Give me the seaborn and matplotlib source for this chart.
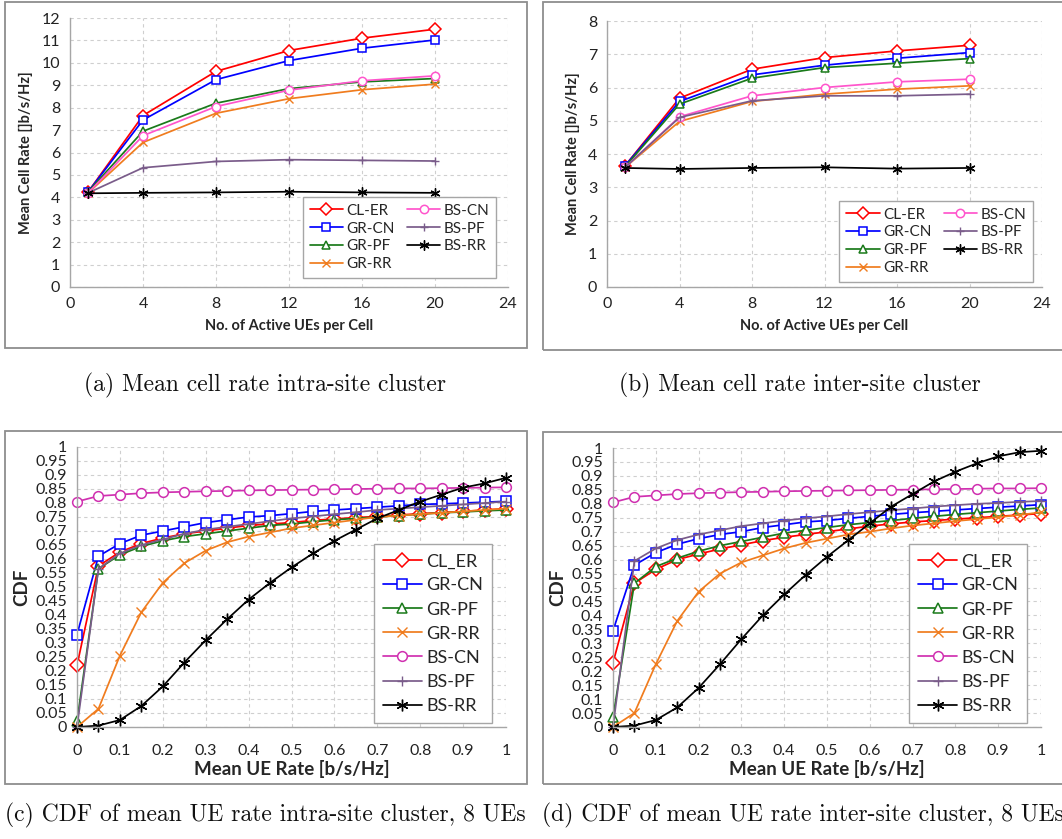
import matplotlib
matplotlib.use("Agg")
import matplotlib.pyplot as plt
from matplotlib.patches import Rectangle
import seaborn as sns
import numpy as np

# ---- mean cell rate vs number of active UEs ----
ues = [1, 4, 8, 12, 16, 20]

intra_rate = {
    "CL-ER": [4.25, 7.65, 9.62, 10.55, 11.10, 11.50],
    "GR-CN": [4.25, 7.45, 9.25, 10.10, 10.65, 11.02],
    "GR-PF": [4.25, 6.95, 8.20, 8.85, 9.15, 9.30],
    "GR-RR": [4.20, 6.45, 7.75, 8.40, 8.80, 9.05],
    "BS-CN": [4.20, 6.75, 8.05, 8.78, 9.20, 9.42],
    "BS-PF": [4.20, 5.32, 5.60, 5.68, 5.65, 5.62],
    "BS-RR": [4.18, 4.20, 4.22, 4.25, 4.22, 4.20],
}

inter_rate = {
    "CL-ER": [3.65, 5.68, 6.55, 6.90, 7.10, 7.27],
    "GR-CN": [3.65, 5.58, 6.38, 6.67, 6.88, 7.05],
    "GR-PF": [3.62, 5.50, 6.28, 6.60, 6.73, 6.87],
    "GR-RR": [3.60, 4.98, 5.58, 5.80, 5.95, 6.05],
    "BS-CN": [3.60, 5.12, 5.75, 6.00, 6.17, 6.25],
    "BS-PF": [3.60, 5.10, 5.60, 5.75, 5.75, 5.80],
    "BS-RR": [3.58, 3.55, 3.58, 3.60, 3.56, 3.58],
}

# ---- CDF of mean UE rate, 8 UEs ----
ue_rate = [0.0, 0.05, 0.1, 0.15, 0.2, 0.25, 0.3, 0.35, 0.4, 0.45, 0.5,
           0.55, 0.6, 0.65, 0.7, 0.75, 0.8, 0.85, 0.9, 0.95, 1.0]

intra_cdf = {
    "CL_ER": [0.22, 0.575, 0.625, 0.655, 0.675, 0.69, 0.70, 0.71, 0.72, 0.725, 0.73,
              0.738, 0.743, 0.748, 0.752, 0.757, 0.762, 0.766, 0.77, 0.775, 0.78],
    "GR-CN": [0.33, 0.61, 0.655, 0.685, 0.70, 0.715, 0.73, 0.74, 0.75, 0.755, 0.762,
              0.77, 0.775, 0.78, 0.785, 0.79, 0.795, 0.797, 0.80, 0.803, 0.806],
    "GR-PF": [0.02, 0.565, 0.615, 0.645, 0.665, 0.68, 0.69, 0.70, 0.71, 0.72, 0.725,
              0.733, 0.74, 0.745, 0.75, 0.755, 0.76, 0.765, 0.768, 0.772, 0.775],
    "GR-RR": [0.0, 0.065, 0.255, 0.41, 0.515, 0.585, 0.63, 0.66, 0.68, 0.695, 0.71,
              0.72, 0.73, 0.74, 0.75, 0.755, 0.76, 0.765, 0.77, 0.775, 0.78],
    "BS-CN": [0.805, 0.825, 0.83, 0.835, 0.838, 0.84, 0.842, 0.843, 0.845, 0.846, 0.847,
              0.848, 0.849, 0.85, 0.851, 0.852, 0.852, 0.853, 0.854, 0.855, 0.856],
    "BS-PF": [0.0, 0.565, 0.62, 0.65, 0.67, 0.69, 0.705, 0.715, 0.725, 0.735, 0.745,
              0.752, 0.76, 0.767, 0.775, 0.78, 0.785, 0.79, 0.795, 0.80, 0.805],
    "BS-RR": [0.0, 0.005, 0.025, 0.075, 0.145, 0.23, 0.31, 0.385, 0.455, 0.515, 0.57,
              0.62, 0.665, 0.705, 0.745, 0.775, 0.805, 0.83, 0.855, 0.87, 0.89],
}

inter_cdf = {
    "CL_ER": [0.23, 0.515, 0.565, 0.60, 0.62, 0.638, 0.653, 0.668, 0.68, 0.69, 0.70,
              0.71, 0.72, 0.728, 0.735, 0.74, 0.745, 0.75, 0.755, 0.76, 0.765],
    "GR-CN": [0.345, 0.58, 0.625, 0.655, 0.675, 0.69, 0.70, 0.715, 0.725, 0.735, 0.74,
              0.748, 0.755, 0.762, 0.768, 0.773, 0.778, 0.783, 0.788, 0.792, 0.797],
    "GR-PF": [0.035, 0.515, 0.575, 0.605, 0.63, 0.65, 0.665, 0.68, 0.695, 0.705, 0.715,
              0.725, 0.733, 0.74, 0.748, 0.755, 0.762, 0.768, 0.774, 0.78, 0.785],
    "GR-RR": [0.0, 0.05, 0.225, 0.38, 0.485, 0.55, 0.59, 0.615, 0.64, 0.66, 0.675,
              0.69, 0.70, 0.712, 0.722, 0.73, 0.738, 0.745, 0.752, 0.76, 0.77],
    "BS-CN": [0.805, 0.825, 0.83, 0.835, 0.838, 0.84, 0.842, 0.843, 0.845, 0.846, 0.847,
              0.848, 0.849, 0.85, 0.851, 0.852, 0.853, 0.854, 0.855, 0.855, 0.856],
    "BS-PF": [0.0, 0.595, 0.64, 0.67, 0.69, 0.705, 0.72, 0.73, 0.74, 0.748, 0.755,
              0.763, 0.77, 0.777, 0.783, 0.79, 0.795, 0.80, 0.803, 0.807, 0.81],
    "BS-RR": [0.0, 0.005, 0.025, 0.07, 0.14, 0.225, 0.315, 0.40, 0.475, 0.545, 0.61,
              0.67, 0.73, 0.79, 0.835, 0.88, 0.915, 0.945, 0.97, 0.985, 0.99],
}

rate_xticks = [0, 4, 8, 12, 16, 20, 24]
cdf_xticks = [0, 0.1, 0.2, 0.3, 0.4, 0.5, 0.6, 0.7, 0.8, 0.9, 1]
cdf_xticklabels = ["0", "0.1", "0.2", "0.3", "0.4", "0.5", "0.6", "0.7", "0.8", "0.9", "1"]
cdf_yticks = [i / 20 for i in range(21)]
cdf_yticklabels = ["0", "0.05", "0.1", "0.15", "0.2", "0.25", "0.3", "0.35", "0.4",
                   "0.45", "0.5", "0.55", "0.6", "0.65", "0.7", "0.75", "0.8", "0.85",
                   "0.9", "0.95", "1"]

captions = [
    "(a) Mean cell rate intra-site cluster",
    "(b) Mean cell rate inter-site cluster",
    "(c) CDF of mean UE rate intra-site cluster, 8 UEs",
    "(d) CDF of mean UE rate inter-site cluster, 8 UEs",
]

# series styles: (colour, marker)
STY = {
    "CL": ("#ff0000", "D"),
    "GR-CN": ("#0000ff", "s"),
    "GR-PF": ("#1a7a1a", "^"),
    "GR-RR": ("#f07c1e", "x"),
    "BS-PF": ("#7a5c8a", "+"),
    "BS-RR": ("#000000", (6, 2, 0)),
}


def style_for(name, cdf):
    if name.startswith("CL"):
        return STY["CL"]
    if name == "BS-CN":
        return ("#d030b0" if cdf else "#ff55cc", "o")
    return STY[name]


sns.set_style("white")
plt.rcParams["font.family"] = ["Lato", "DejaVu Sans"]
plt.rcParams["axes.unicode_minus"] = False

fig = plt.figure(figsize=(10.62, 8.39), dpi=100)
W, H = 1062, 839


def fig_rect(l, t, r, b):
    return [l / W, 1 - b / H, (r - l) / W, (b - t) / H]


# Panel frames
for (l, t, r, b) in [(5, 2, 527, 348), (543, 2, 1070, 350),
                     (5, 431, 527, 784), (543, 432, 1070, 784)]:
    fig.patches.append(Rectangle((l / W, 1 - b / H), (r - l) / W, (b - t) / H,
                                 transform=fig.transFigure, fill=False,
                                 edgecolor="#8e8e8e", lw=1.3))


def setup_axes(ax, labelsize):
    for s in ["top", "right"]:
        ax.spines[s].set_visible(False)
    for s in ["left", "bottom"]:
        ax.spines[s].set_color("#a6a6a6")
        ax.spines[s].set_linewidth(1.0)
    ax.grid(True, ls=(0, (3, 3)), color="#cfcfcf", lw=0.8)
    ax.set_axisbelow(True)
    ax.tick_params(axis="both", which="both", direction="out", length=4,
                   color="#a6a6a6", labelsize=labelsize, labelcolor="#222222", pad=3)


def series_kw(c, m, ms):
    if m == (6, 2, 0):
        ms = ms * 1.2
    ew = 1.0 if m in ("x", "+", (6, 2, 0)) else 1.1
    return dict(color=c, marker=m, markersize=ms, markerfacecolor="white",
                markeredgecolor=c, markeredgewidth=ew, lw=1.25, clip_on=False)


def draw_rate(ax, data, ymax, anchor):
    for name, vals in data.items():
        c, m = style_for(name, False)
        sns.lineplot(x=ues, y=vals, ax=ax, label=name, **series_kw(c, m, 6))
    ax.set_xlim(0, 24)
    ax.set_ylim(0, ymax)
    ax.set_xticks(rate_xticks)
    ax.set_yticks(range(0, ymax + 1))
    setup_axes(ax, 11.5)
    ax.set_xlabel("No. of Active UEs per Cell", fontsize=10.5, fontweight="bold", labelpad=6)
    ax.set_ylabel("Mean Cell Rate []b/s/Hz]", fontsize=10.5, fontweight="bold", labelpad=6)
    ax.legend(loc="lower right", bbox_to_anchor=anchor, ncol=2, fontsize=11,
              frameon=True, fancybox=False, edgecolor="#a6a6a6", framealpha=1,
              handlelength=2.2, handletextpad=0.2, columnspacing=0.8,
              labelspacing=0.25, borderpad=0.45, borderaxespad=0)


def draw_cdf(ax, data, anchor):
    for name, vals in data.items():
        c, m = style_for(name, True)
        sns.lineplot(x=ue_rate, y=vals, ax=ax, label=name, **series_kw(c, m, 7))
    ax.set_xlim(0, 1)
    ax.set_ylim(0, 1)
    ax.set_xticks(cdf_xticks)
    ax.set_xticklabels(cdf_xticklabels)
    ax.set_yticks(cdf_yticks)
    ax.set_yticklabels(cdf_yticklabels)
    setup_axes(ax, 11.5)
    ax.tick_params(axis="x", pad=8)
    ax.set_xlabel("Mean UE Rate [b/s/Hz]", fontsize=13.5, fontweight="bold", labelpad=2)
    ax.set_ylabel("CDF", fontsize=13.5, fontweight="bold", labelpad=4)
    ax.legend(loc="lower right", bbox_to_anchor=anchor, ncol=1, fontsize=13,
              frameon=True, fancybox=False, edgecolor="#a6a6a6", framealpha=1,
              handlelength=2.2, handletextpad=0.2, labelspacing=0.45, borderpad=0.5,
              borderaxespad=0)


ax_a = fig.add_axes(fig_rect(70, 18, 508, 287))
draw_rate(ax_a, intra_rate, 12, (0.973, 0.033))

ax_b = fig.add_axes(fig_rect(607, 21, 1042, 287))
draw_rate(ax_b, inter_rate, 8, (0.979, 0.019))

ax_c = fig.add_axes(fig_rect(77, 447, 506, 727))
draw_cdf(ax_c, intra_cdf, (0.967, 0.014))

ax_d = fig.add_axes(fig_rect(613, 448, 1041, 727))
draw_cdf(ax_d, inter_cdf, (0.967, 0.014))

# Captions
cap_kw = dict(family="cmr10", fontsize=17, ha="center", va="center", color="#111111")
fig.text(265 / W, 1 - 385 / H, captions[0], **cap_kw)
fig.text(800 / W, 1 - 385 / H, captions[1], **cap_kw)
fig.text(265 / W, 1 - 815 / H, captions[2], **cap_kw)
fig.text(803 / W, 1 - 815 / H, captions[3], **cap_kw)

fig.savefig("out.png", dpi=100)
